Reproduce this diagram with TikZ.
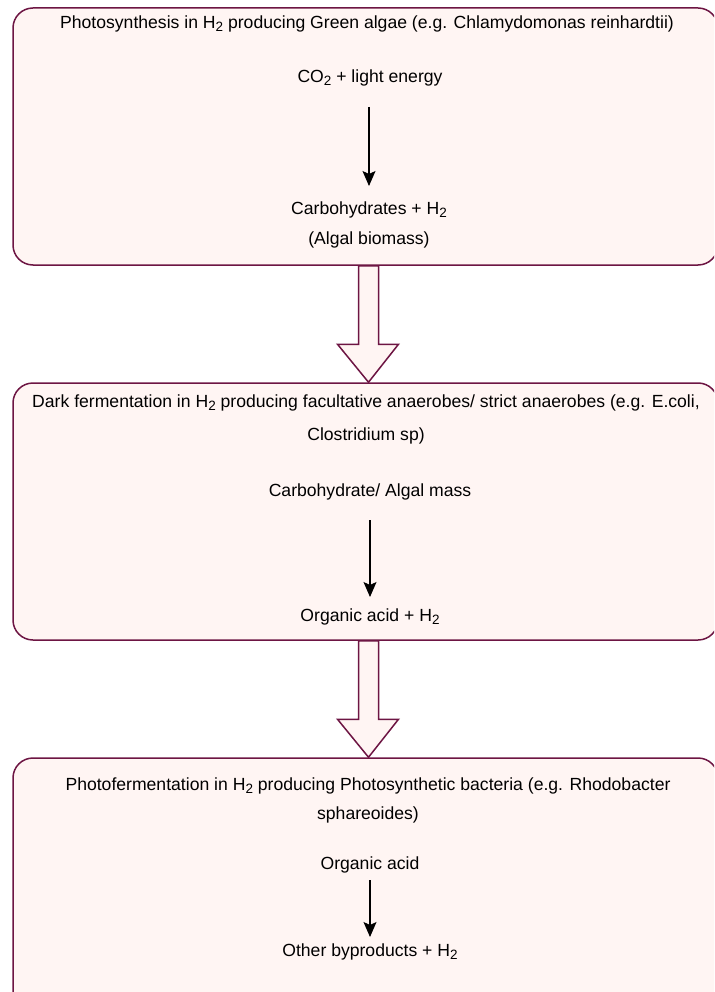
\documentclass[tikz,border=0pt]{standalone}
\usepackage{fontspec}
\setmainfont{Liberation Sans}
\usetikzlibrary{arrows.meta,calc}
\definecolor{boxline}{RGB}{109,21,67}
\definecolor{boxfill}{RGB}{255,245,243}
\newcommand{\subtwo}{\raisebox{-0.3ex}{\fontsize{13.5}{14}\selectfont 2}}
\begin{document}
\begin{tikzpicture}[x=1pt,y=-1pt,
  stage/.style={draw=boxline,fill=boxfill,line width=1.5pt,rounded corners=20pt,
    minimum width=705pt,minimum height=257pt,inner sep=0pt},
  label/.style={font=\fontsize{17.6}{21}\selectfont,inner sep=1pt,align=center,yshift=-2pt},
  flow/.style={-{Stealth[length=15pt,width=13pt,inset=3pt]},line width=1.1pt,black},
  bigarrow/.style={draw=boxline,fill=boxfill,line width=1.5pt,line join=miter}]
\useasboundingbox (0,0) rectangle (714,992);
\clip (0,0) rectangle (714,992);

% three process stages
\node[stage] (b1) at (365.5,136.5) {};
\node[stage] (b2) at (365.5,511.5) {};
\node[stage] (b3) at (365.5,886.5) {};

% stage 1
\node[label] (t1) at (367,22) {Photosynthesis in H\subtwo\ producing Green algae (e.g. Chlamydomonas reinhardtii)};
\node[label] (co2) at (370,76) {CO\subtwo\ + light energy};
\node[label] (carb) at (369,208) {Carbohydrates + H\subtwo};
\node[label] (alg) at (369,238) {(Algal biomass)};
\coordinate (a1s) at (369,107);
\coordinate (a1e) at (369,186);
\draw[flow] (a1s) -- (a1e);

% stage 2
\node[label] (t2a) at (366,401) {Dark fermentation in H\subtwo\ producing facultative anaerobes/ strict anaerobes (e.g. E.coli,};
\node[label] (t2b) at (366,434) {Clostridium sp)};
\node[label] (cm) at (370,490) {Carbohydrate/ Algal mass};
\node[label] (oa1) at (370,615) {Organic acid + H\subtwo};
\coordinate (a2s) at (370,520);
\coordinate (a2e) at (370,597);
\draw[flow] (a2s) -- (a2e);

% stage 3
\node[label] (t3a) at (368,784) {Photofermentation in H\subtwo\ producing Photosynthetic bacteria (e.g. Rhodobacter};
\node[label] (t3b) at (368,813) {sphareoides)};
\node[label] (oa2) at (370,863) {Organic acid};
\node[label] (by) at (370,950) {Other byproducts + H\subtwo};
\coordinate (a3s) at (370,880);
\coordinate (a3e) at (370,937);
\draw[flow] (a3s) -- (a3e);

% block arrows between stages
\foreach \u/\l in {b1/b2,b2/b3}{
  \draw[bigarrow]
    ($(\u.south)+(-7,0)$) -- ($(\u.south)+(13,0)$) --
    ($(\l.north)+(13,-38)$) -- ($(\l.north)+(33,-38)$) --
    ($(\l.north)+(3,0)$) -- ($(\l.north)+(-28,-38)$) --
    ($(\l.north)+(-7,-38)$) -- cycle;
}
\end{tikzpicture}
\end{document}
